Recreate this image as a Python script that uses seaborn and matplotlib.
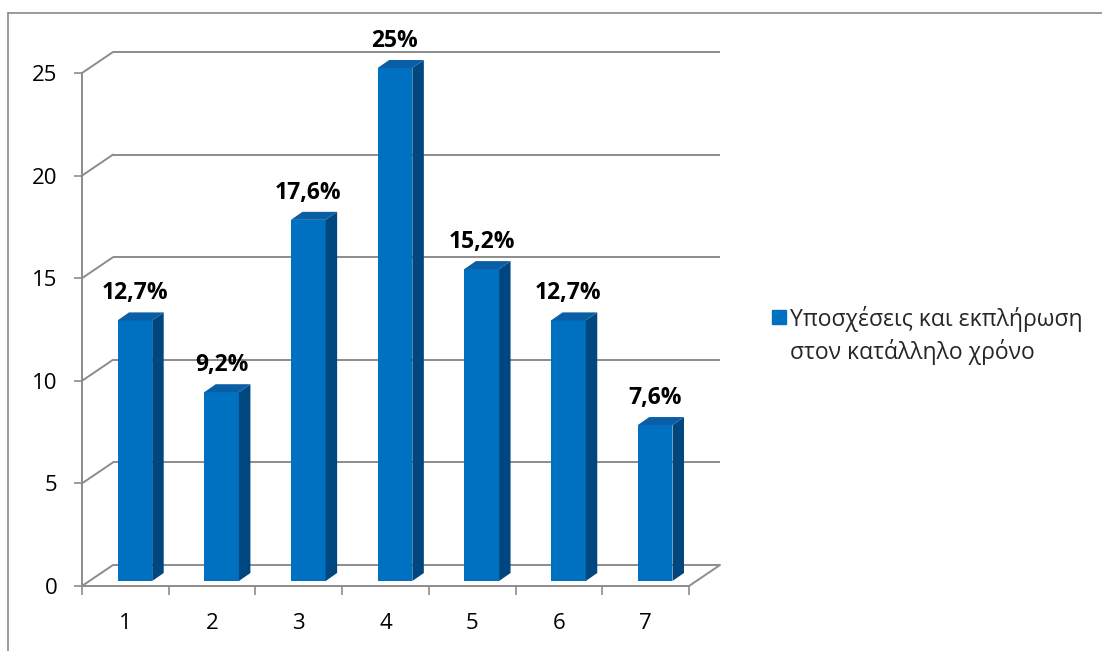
import numpy as np
import pandas as pd
import matplotlib
matplotlib.use("Agg")
import matplotlib.pyplot as plt
import matplotlib.transforms as mtransforms
from matplotlib.lines import Line2D
from matplotlib.patches import Polygon
import seaborn as sns

# ---- data -------------------------------------------------------------
categories = ["1", "2", "3", "4", "5", "6", "7"]
percent_values = [12.7, 9.2, 17.6, 25, 15.2, 12.7, 7.6]
y_ticks = [0, 5, 10, 15, 20, 25]
series_name = "Υποσχέσεις και εκπλήρωση\nστον κατάλληλο χρόνο"

# ---- style ------------------------------------------------------------
FRONT = "#0070C0"
SIDE = "#00477F"
TOP = "#0A5EA6"
GRID = "#8C8C8C"
FRAME = "#8A8A8A"

sns.set_theme(style="white")
plt.rcParams["font.family"] = ["Open Sans", "Noto Sans", "DejaVu Sans"]

W, H, DPI = 1102, 651, 100
PT = 72 / DPI  # points per pixel

# pseudo-3D offsets in pixels
WALL_DX, WALL_DY = 31, 21     # front plane -> back wall
BAR_DX, BAR_DY = 9.5, 5       # front plane -> bar front faces
DEPTH_DX, DEPTH_DY = 11.5, 8  # bar thickness

fig = plt.figure(figsize=(W / DPI, H / DPI), dpi=DPI)
fig.patch.set_facecolor("white")

# axes = front plane of the box
ax = fig.add_axes([82 / W, (H - 586) / H, (689 - 82) / W, (586 - 73) / H])
ax.set_facecolor("none")

df = pd.DataFrame({"category": categories, "value": percent_values})
sns.barplot(data=df, x="category", y="value", color=FRONT, width=0.4,
            saturation=1, linewidth=0, ax=ax, zorder=3)

n = len(categories)
ax.set_xlim(-0.5, n - 0.5)
ax.set_ylim(y_ticks[0], y_ticks[-1])
ax.set_xlabel("")
ax.set_ylabel("")

ident = mtransforms.IdentityTransform()
back = ax.transData + mtransforms.Affine2D().translate(WALL_DX, WALL_DY)

# back wall gridlines and the diagonals joining them to the value axis
for t in y_ticks:
    ax.plot([-0.5, n - 0.5], [t, t], transform=back, color=GRID, lw=1.4,
            zorder=1, clip_on=False, solid_capstyle="butt")
    x0, y0 = ax.transData.transform((-0.5, t))
    ax.add_line(Line2D([x0, x0 + WALL_DX], [y0, y0 + WALL_DY], transform=ident,
                       color=GRID, lw=1.4, zorder=1, clip_on=False))

# right edge of the floor
x0, y0 = ax.transData.transform((n - 0.5, 0))
ax.add_line(Line2D([x0, x0 + WALL_DX], [y0, y0 + WALL_DY], transform=ident,
                   color=GRID, lw=1.4, zorder=1, clip_on=False))

# bars: move front faces into the box, then add side and top faces
shift = ax.transData + mtransforms.Affine2D().translate(BAR_DX, BAR_DY)
bars = list(ax.patches)
for p, v in zip(bars, percent_values):
    p.set_transform(shift)
    p.set_clip_on(False)
    x_left, w, h = p.get_x(), p.get_width(), p.get_height()
    l, b = ax.transData.transform((x_left, 0)) + (BAR_DX, BAR_DY)
    r, t = ax.transData.transform((x_left + w, h)) + (BAR_DX, BAR_DY)
    side = [(r, b), (r + DEPTH_DX, b + DEPTH_DY), (r + DEPTH_DX, t + DEPTH_DY), (r, t)]
    top = [(l, t), (r, t), (r + DEPTH_DX, t + DEPTH_DY), (l + DEPTH_DX, t + DEPTH_DY)]
    ax.add_patch(Polygon(side, closed=True, transform=ident, facecolor=SIDE,
                         edgecolor="none", zorder=3, clip_on=False))
    ax.add_patch(Polygon(top, closed=True, transform=ident, facecolor=TOP,
                         edgecolor="none", zorder=3, clip_on=False))
    label = f"{v:g}".replace(".", ",") + "%"
    ax.annotate(label, xy=(x_left + w / 2, h), xytext=(BAR_DX * PT, (BAR_DY + 27) * PT),
                textcoords="offset points", ha="center", va="center",
                fontsize=16.5, fontweight="bold", color="black",
                annotation_clip=False)

# spines
for side_name in ("top", "right"):
    ax.spines[side_name].set_visible(False)
for side_name in ("left", "bottom"):
    ax.spines[side_name].set_color(GRID)
    ax.spines[side_name].set_linewidth(1.4)

# ticks
ax.set_yticks(y_ticks)
ax.tick_params(axis="y", left=True, length=5.8, width=1.2, color=GRID,
               pad=12, labelsize=16, labelcolor="black")
ax.set_xticks(np.arange(n + 1) - 0.5)
ax.set_xticklabels([""] * (n + 1))
ax.set_xticks(np.arange(n), minor=True)
ax.set_xticklabels(categories, minor=True)
ax.tick_params(axis="x", which="major", bottom=True, length=6.5, width=1.2, color=GRID)
ax.tick_params(axis="x", which="minor", bottom=True, length=0, pad=19.5,
               labelsize=16, labelcolor="black")

# legend
handle = Line2D([], [], marker="s", color=FRONT, markersize=10, linestyle="none")
leg = fig.legend(handles=[handle], labels=[series_name], loc="upper left",
                 bbox_to_anchor=(770 / W, 1 - 306 / H), frameon=False,
                 fontsize=16.5, handlelength=0.75, handleheight=1.55,
                 handletextpad=0.12, borderpad=0, borderaxespad=0)
for txt in leg.get_texts():
    txt.set_linespacing(1.35)
for col in leg._legend_handle_box.get_children():
    for item in col.get_children():
        item.align = "top"

# chart frame (top and left edges)
fig.add_artist(Line2D([8 / W, 1], [1 - 13 / H, 1 - 13 / H], transform=fig.transFigure,
                      color=FRAME, lw=1.2))
fig.add_artist(Line2D([8 / W, 8 / W], [1 - 13 / H, 0], transform=fig.transFigure,
                      color=FRAME, lw=1.2))

fig.savefig("out.png", dpi=DPI)
